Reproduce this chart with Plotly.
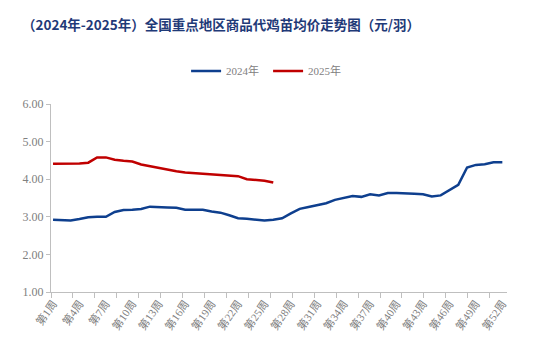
import plotly.graph_objects as go

weeks = list(range(1, 53))
tick_weeks = list(range(1, 53, 3))
tick_labels = [f"第{w}周" for w in tick_weeks]

price_2024 = [2.92, 2.90, 2.90, 2.94, 2.99, 3.00, 3.00, 3.13, 3.18, 3.19,
              3.21, 3.27, 3.25, 3.25, 3.24, 3.19, 3.19, 3.19, 3.14, 3.11,
              3.04, 2.96, 2.95, 2.92, 2.90, 2.92, 2.96, 3.09, 3.21, 3.26,
              3.30, 3.36, 3.45, 3.50, 3.55, 3.53, 3.60, 3.57, 3.63, 3.63,
              3.63, 3.61, 3.60, 3.54, 3.57, 3.72, 3.85, 4.31, 4.38, 4.40,
              4.45, 4.45]
price_2025 = [4.41, 4.41, 4.41, 4.42, 4.44, 4.58, 4.58, 4.52, 4.49, 4.47,
              4.39, 4.34, 4.31, 4.26, 4.21, 4.18, 4.16, 4.15, 4.13, 4.12,
              4.10, 4.08, 4.00, 3.99, 3.96, 3.91]

fig = go.Figure()
fig.add_trace(go.Scatter(x=weeks, y=price_2024, mode="lines", name="2024年",
                         line=dict(color="#0E3F8E", width=2.5)))
fig.add_trace(go.Scatter(x=weeks[:len(price_2025)], y=price_2025, mode="lines", name="2025年",
                         line=dict(color="#C00000", width=2.5)))

fig.update_layout(
    width=554, height=356,
    margin=dict(l=51, r=47, t=104, b=64, autoexpand=False),
    paper_bgcolor="white", plot_bgcolor="white",
    title=dict(text="<b>（2024年-2025年）全国重点地区商品代鸡苗均价走势图（元/羽）</b>",
               x=22/554, xanchor="left", y=1-25/356, yanchor="middle",
               font=dict(family="Noto Sans CJK SC", size=13.5, color="#1F3A78")),
    legend=dict(orientation="h", x=(192 - 51 - 6) / 455.7, xanchor="left", y=1.176, yanchor="middle",
                font=dict(family="Liberation Serif, Noto Sans CJK SC", size=11, color="#808080"),
                itemwidth=30, tracegroupgap=0, entrywidth=37, entrywidthmode="pixels"),
    showlegend=True,
)
fig.update_xaxes(
    automargin=False,
    range=[0.77, 52.53], tickmode="array", tickvals=tick_weeks, ticktext=tick_labels,
    tickangle=-55, ticks="", showgrid=False, zeroline=False,
    showline=True, linecolor="#BFBFBF", linewidth=1,
    tickfont=dict(family="Liberation Serif, Noto Sans CJK SC", size=11, color="#808080"),
    minor=dict(tickmode="linear", tick0=0.77, dtick=2.49, ticks="outside", ticklen=5,
               tickcolor="#BFBFBF", showgrid=False),
)
fig.update_yaxes(
    automargin=False,
    range=[1, 6], dtick=1, tickformat=".2f", showgrid=False, zeroline=False,
    showline=True, linecolor="#BFBFBF", linewidth=1,
    ticks="outside", ticklen=4, tickcolor="#BFBFBF",
    tickfont=dict(family="Liberation Serif", size=12, color="#808080"),
)
fig.write_html("out.html", config={"displayModeBar": False},
               post_script="document.body.style.margin='0';")
